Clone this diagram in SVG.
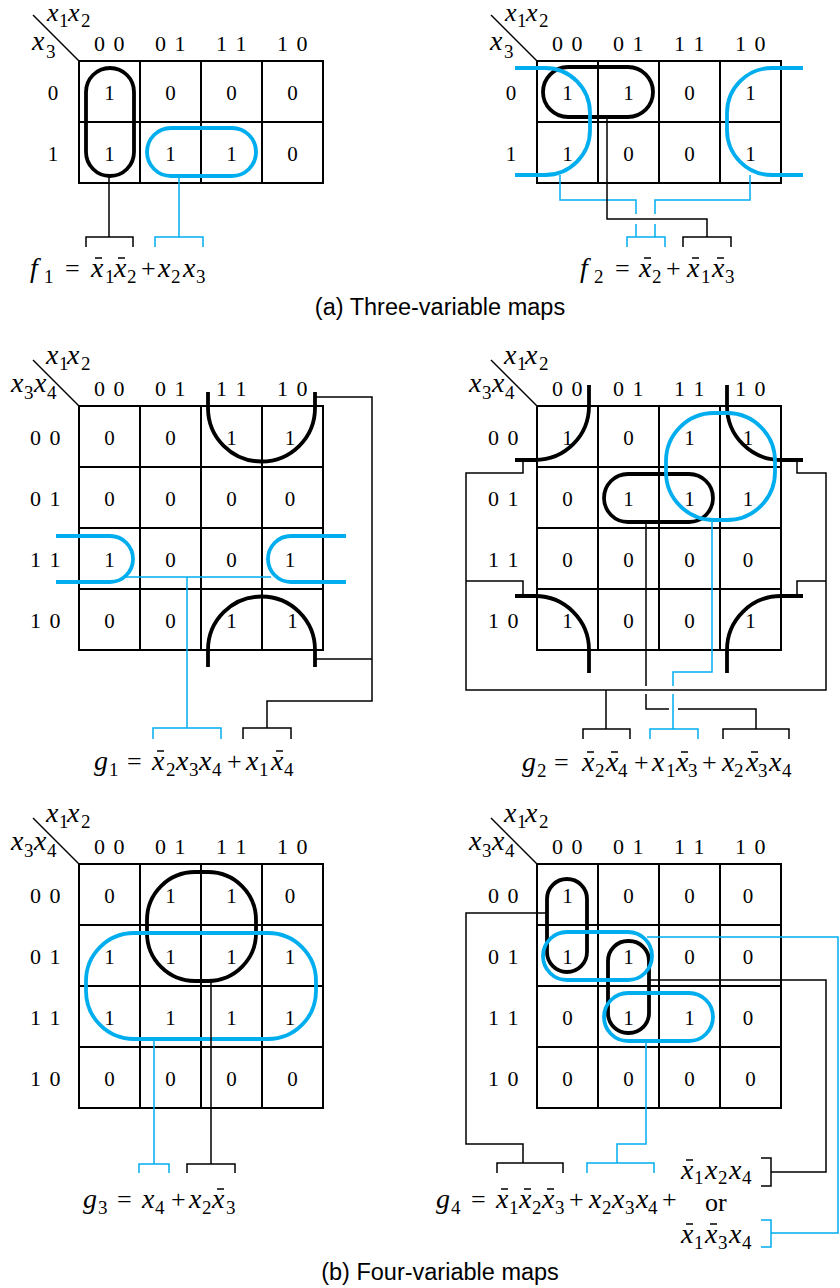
<svg xmlns="http://www.w3.org/2000/svg" width="840" height="1288" viewBox="0 0 840 1288">
<style>
.g{fill:none;stroke:#000;stroke-width:2}
.d{stroke:#000;stroke-width:1.5}
.lk{fill:none;stroke:#000;stroke-width:3.8}
.lb{fill:none;stroke:#00AEEF;stroke-width:3.8}
.wk{fill:none;stroke:#000;stroke-width:1.5}
.wb{fill:none;stroke:#00AEEF;stroke-width:1.5}
.bar{fill:none;stroke:#000;stroke-width:1.5}
text{font-family:"Liberation Serif","Times New Roman",serif;fill:#000}
.n{font-size:21px;text-anchor:middle}
.h{font-size:22px;text-anchor:middle;letter-spacing:1.5px}
.v{font-size:28px;font-style:italic}
.t{font-size:26px;font-style:italic}
.s{font-size:19px;font-style:normal}
.o{font-size:26px;font-style:normal}
.cap{font-family:"Liberation Sans",Arial,sans-serif;font-size:23.5px;text-anchor:middle}
</style>
<rect width="840" height="1288" fill="#fff"/>

<!-- ===== f1 map ===== -->
<g id="map-f1">
<rect class="g" x="79" y="61" width="244" height="122"/>
<path class="g" d="M140 61V183M201 61V183M262 61V183M79 122H323"/>
<line class="d" x1="33" y1="15" x2="79" y2="61"/>
<text y="21"><tspan class="t" x="47">x</tspan><tspan class="s" x="59" y="27">1</tspan><tspan class="t" x="68" y="21">x</tspan><tspan class="s" x="81" y="27">2</tspan></text>
<text y="50"><tspan class="v" x="32">x</tspan><tspan class="s" x="46" y="58">3</tspan></text>
<text class="h" y="51"><tspan x="110">0 0</tspan><tspan x="171">0 1</tspan><tspan x="232">1 1</tspan><tspan x="293">1 0</tspan></text>
<text class="n"><tspan x="53" y="100">0</tspan><tspan x="53" y="161">1</tspan></text>
<text class="n"><tspan x="109.5" y="100">1</tspan><tspan x="170.5" y="100">0</tspan><tspan x="231.5" y="100">0</tspan><tspan x="292.5" y="100">0</tspan><tspan x="109.5" y="161">1</tspan><tspan x="170.5" y="161">1</tspan><tspan x="231.5" y="161">1</tspan><tspan x="292.5" y="161">0</tspan></text>
<rect class="lk" x="86" y="68" width="48" height="108" rx="24"/>
<rect class="lb" x="147" y="128" width="109" height="48" rx="24"/>
</g>

<!-- ===== f2 map ===== -->
<g id="map-f2">
<rect class="g" x="537" y="61" width="244" height="122"/>
<path class="g" d="M598 61V183M659 61V183M720 61V183M537 122H781"/>
<line class="d" x1="491" y1="15" x2="537" y2="61"/>
<text y="21"><tspan class="t" x="505">x</tspan><tspan class="s" x="517" y="27">1</tspan><tspan class="t" x="526" y="21">x</tspan><tspan class="s" x="539" y="27">2</tspan></text>
<text y="50"><tspan class="v" x="490">x</tspan><tspan class="s" x="504" y="58">3</tspan></text>
<text class="h" y="51"><tspan x="568">0 0</tspan><tspan x="629">0 1</tspan><tspan x="690">1 1</tspan><tspan x="751">1 0</tspan></text>
<text class="n"><tspan x="511" y="100">0</tspan><tspan x="511" y="161">1</tspan></text>
<text class="n"><tspan x="567.5" y="100">1</tspan><tspan x="628.5" y="100">1</tspan><tspan x="689.5" y="100">0</tspan><tspan x="750.5" y="100">1</tspan><tspan x="567.5" y="161">1</tspan><tspan x="628.5" y="161">0</tspan><tspan x="689.5" y="161">0</tspan><tspan x="750.5" y="161">1</tspan></text>
<rect class="lk" x="543" y="67" width="110" height="50" rx="25"/>
<path class="lb" d="M515 68H545A45 45 0 0 1 590 113V130A45 45 0 0 1 545 175H515"/>
<path class="lb" d="M803 68H772A45 45 0 0 0 727 113V130A45 45 0 0 0 772 175H803"/>
</g>

<!-- ===== g1 map ===== -->
<g id="map-g1">
<rect class="g" x="79" y="406" width="244" height="244"/>
<path class="g" d="M140 406V650M201 406V650M262 406V650M79 467H323M79 528H323M79 589H323"/>
<line class="d" x1="33" y1="360" x2="79" y2="406"/>
<text y="364"><tspan class="v" x="46">x</tspan><tspan class="s" x="59" y="370">1</tspan><tspan class="v" x="67" y="364">x</tspan><tspan class="s" x="81" y="370">2</tspan></text>
<text y="392"><tspan class="v" x="11">x</tspan><tspan class="s" x="24" y="399">3</tspan><tspan class="v" x="34" y="392">x</tspan><tspan class="s" x="47" y="399">4</tspan></text>
<text class="h" y="396"><tspan x="110">0 0</tspan><tspan x="171">0 1</tspan><tspan x="232">1 1</tspan><tspan x="293">1 0</tspan></text>
<text class="h"><tspan x="46" y="445">0 0</tspan><tspan x="46" y="506">0 1</tspan><tspan x="46" y="567">1 1</tspan><tspan x="46" y="628">1 0</tspan></text>
<text class="n">
<tspan x="109.5" y="445">0</tspan><tspan x="170.5" y="445">0</tspan><tspan x="231.5" y="445">1</tspan><tspan x="292.5" y="445">1</tspan>
<tspan x="109.5" y="506">0</tspan><tspan x="170.5" y="506">0</tspan><tspan x="231.5" y="506">0</tspan><tspan x="292.5" y="506">0</tspan>
<tspan x="109.5" y="567">1</tspan><tspan x="170.5" y="567">0</tspan><tspan x="231.5" y="567">0</tspan><tspan x="292.5" y="567">1</tspan>
<tspan x="109.5" y="628">0</tspan><tspan x="170.5" y="628">0</tspan><tspan x="231.5" y="628">1</tspan><tspan x="292.5" y="628">1</tspan>
</text>
<path class="lk" d="M208 392V408A53.5 53.5 0 0 0 315 408V392"/>
<path class="lk" d="M208 667V650A53.5 53.5 0 0 1 315 650V667"/>
<path class="lb" d="M56 536H110A23 23 0 0 1 110 582H56"/>
<path class="lb" d="M346 536H291A23 23 0 0 0 291 582H346"/>
</g>

<!-- ===== g2 map ===== -->
<g id="map-g2">
<rect class="g" x="537" y="406" width="244" height="244"/>
<path class="g" d="M598 406V650M659 406V650M720 406V650M537 467H781M537 528H781M537 589H781"/>
<line class="d" x1="491" y1="360" x2="537" y2="406"/>
<text y="364"><tspan class="v" x="504">x</tspan><tspan class="s" x="517" y="370">1</tspan><tspan class="v" x="525" y="364">x</tspan><tspan class="s" x="539" y="370">2</tspan></text>
<text y="392"><tspan class="v" x="469">x</tspan><tspan class="s" x="482" y="399">3</tspan><tspan class="v" x="492" y="392">x</tspan><tspan class="s" x="505" y="399">4</tspan></text>
<text class="h" y="396"><tspan x="568">0 0</tspan><tspan x="629">0 1</tspan><tspan x="690">1 1</tspan><tspan x="751">1 0</tspan></text>
<text class="h"><tspan x="504" y="445">0 0</tspan><tspan x="504" y="506">0 1</tspan><tspan x="504" y="567">1 1</tspan><tspan x="504" y="628">1 0</tspan></text>
<text class="n">
<tspan x="567.5" y="445">1</tspan><tspan x="628.5" y="445">0</tspan><tspan x="689.5" y="445">1</tspan><tspan x="750.5" y="445">1</tspan>
<tspan x="567.5" y="506">0</tspan><tspan x="628.5" y="506">1</tspan><tspan x="689.5" y="506">1</tspan><tspan x="750.5" y="506">1</tspan>
<tspan x="567.5" y="567">0</tspan><tspan x="628.5" y="567">0</tspan><tspan x="689.5" y="567">0</tspan><tspan x="750.5" y="567">0</tspan>
<tspan x="567.5" y="628">1</tspan><tspan x="628.5" y="628">0</tspan><tspan x="689.5" y="628">0</tspan><tspan x="750.5" y="628">1</tspan>
</text>
<path class="lk" d="M589 385V406A54 54 0 0 1 535 460H515"/>
<path class="lk" d="M727 385V406A54 54 0 0 0 781 460H803"/>
<path class="lk" d="M515 596H535A54 54 0 0 1 589 650V673"/>
<path class="lk" d="M803 596H781A54 54 0 0 0 727 650V673"/>
<rect class="lk" x="604" y="474" width="109" height="48" rx="24"/>
<rect class="lb" x="666" y="413" width="109" height="107" rx="48"/>
</g>

<!-- ===== g3 map ===== -->
<g id="map-g3">
<rect class="g" x="79" y="864" width="244" height="244"/>
<path class="g" d="M140 864V1108M201 864V1108M262 864V1108M79 925H323M79 986H323M79 1047H323"/>
<line class="d" x1="33" y1="818" x2="79" y2="864"/>
<text y="822"><tspan class="v" x="46">x</tspan><tspan class="s" x="59" y="828">1</tspan><tspan class="v" x="67" y="822">x</tspan><tspan class="s" x="81" y="828">2</tspan></text>
<text y="850"><tspan class="v" x="11">x</tspan><tspan class="s" x="24" y="857">3</tspan><tspan class="v" x="34" y="850">x</tspan><tspan class="s" x="47" y="857">4</tspan></text>
<text class="h" y="854"><tspan x="110">0 0</tspan><tspan x="171">0 1</tspan><tspan x="232">1 1</tspan><tspan x="293">1 0</tspan></text>
<text class="h"><tspan x="46" y="903">0 0</tspan><tspan x="46" y="964">0 1</tspan><tspan x="46" y="1025">1 1</tspan><tspan x="46" y="1086">1 0</tspan></text>
<text class="n">
<tspan x="109.5" y="903">0</tspan><tspan x="170.5" y="903">1</tspan><tspan x="231.5" y="903">1</tspan><tspan x="292.5" y="903">0</tspan>
<tspan x="109.5" y="964">1</tspan><tspan x="170.5" y="964">1</tspan><tspan x="231.5" y="964">1</tspan><tspan x="292.5" y="964">1</tspan>
<tspan x="109.5" y="1025">1</tspan><tspan x="170.5" y="1025">1</tspan><tspan x="231.5" y="1025">1</tspan><tspan x="292.5" y="1025">1</tspan>
<tspan x="109.5" y="1086">0</tspan><tspan x="170.5" y="1086">0</tspan><tspan x="231.5" y="1086">0</tspan><tspan x="292.5" y="1086">0</tspan>
</text>
<rect class="lk" x="147" y="872" width="109" height="109" rx="48"/>
<rect class="lb" x="86" y="933" width="230" height="106" rx="48"/>
</g>

<!-- ===== g4 map ===== -->
<g id="map-g4">
<rect class="g" x="537" y="864" width="244" height="244"/>
<path class="g" d="M598 864V1108M659 864V1108M720 864V1108M537 925H781M537 986H781M537 1047H781"/>
<line class="d" x1="491" y1="818" x2="537" y2="864"/>
<text y="822"><tspan class="v" x="504">x</tspan><tspan class="s" x="517" y="828">1</tspan><tspan class="v" x="525" y="822">x</tspan><tspan class="s" x="539" y="828">2</tspan></text>
<text y="850"><tspan class="v" x="469">x</tspan><tspan class="s" x="482" y="857">3</tspan><tspan class="v" x="492" y="850">x</tspan><tspan class="s" x="505" y="857">4</tspan></text>
<text class="h" y="854"><tspan x="568">0 0</tspan><tspan x="629">0 1</tspan><tspan x="690">1 1</tspan><tspan x="751">1 0</tspan></text>
<text class="h"><tspan x="504" y="903">0 0</tspan><tspan x="504" y="964">0 1</tspan><tspan x="504" y="1025">1 1</tspan><tspan x="504" y="1086">1 0</tspan></text>
<text class="n">
<tspan x="567.5" y="903">1</tspan><tspan x="628.5" y="903">0</tspan><tspan x="689.5" y="903">0</tspan><tspan x="750.5" y="903">0</tspan>
<tspan x="567.5" y="964">1</tspan><tspan x="628.5" y="964">1</tspan><tspan x="689.5" y="964">0</tspan><tspan x="750.5" y="964">0</tspan>
<tspan x="567.5" y="1025">0</tspan><tspan x="628.5" y="1025">1</tspan><tspan x="689.5" y="1025">1</tspan><tspan x="750.5" y="1025">0</tspan>
<tspan x="567.5" y="1086">0</tspan><tspan x="628.5" y="1086">0</tspan><tspan x="689.5" y="1086">0</tspan><tspan x="750.5" y="1086">0</tspan>
</text>
<rect class="lk" x="547" y="879" width="40" height="93" rx="20"/>
<rect class="lk" x="608" y="941" width="41" height="92" rx="20"/>
<rect class="lb" x="543" y="932" width="109" height="48" rx="24"/>
<rect class="lb" x="604" y="993" width="109" height="48" rx="24"/>
</g>

<!-- ===== connectors ===== -->
<g id="connectors">
<path class="wk" d="M109 176V237M86 247V237H133V247"/>
<path class="wb" d="M179 176V237M155 247V237H203V247"/>
<path class="wb" d="M560 175V200H636V214M636 224V237M750 175V200H655V214M655 224V237M627 247V237H665V247"/>
<path class="wk" d="M607 117V219H707V237M683 247V237H731V247"/>
<path class="wb" d="M125 577H271M187 577V728M153 739V728H221V739"/>
<path class="wk" d="M315 397H372V701H267V728M315 659H372M243 739V728H291V739"/>
<path class="wk" d="M523 460V473H466V690H826V473H797V460M466 581H523V596M826 581H797V596M606 690V729M583 739V729H630V739"/>
<path class="wk" d="M646 522V686M646 694V709H669M678 709H756V729M723 739V729H789V739"/>
<path class="wb" d="M712 520V672H673V686M673 694V729M650 739V729H698V739"/>
<path class="wb" d="M154 1039V1164M139 1173V1164H169V1173"/>
<path class="wk" d="M211 981V1164M187 1173V1164H235V1173"/>
<path class="wk" d="M547 913H466V1144H523V1163M497 1173V1163H563V1173"/>
<path class="wb" d="M646 1041V1144H617V1163M587 1173V1163H654V1173"/>
<path class="wk" d="M649 980H826V1172H771M761 1158H771V1186H761"/>
<path class="wb" d="M647 937H838V1233H771M761 1220H771V1247H761"/>
</g>

<!-- ===== equations ===== -->
<g id="eq-f1">
<text y="277"><tspan class="v" x="30">f</tspan><tspan class="s" x="44" y="283">1</tspan><tspan class="o" x="65" y="277">=</tspan><tspan class="v" x="91">x</tspan><tspan class="s" x="105" y="283">1</tspan><tspan class="v" x="114" y="277">x</tspan><tspan class="s" x="127" y="283">2</tspan><tspan class="o" x="141" y="277">+</tspan><tspan class="v" x="158">x</tspan><tspan class="s" x="171" y="283">2</tspan><tspan class="v" x="183" y="277">x</tspan><tspan class="s" x="196" y="283">3</tspan></text>
<path class="bar" d="M95 258H102M118 258H125"/>
</g>
<g id="eq-f2">
<text y="277"><tspan class="v" x="580">f</tspan><tspan class="s" x="594" y="283">2</tspan><tspan class="o" x="615" y="277">=</tspan><tspan class="v" x="639">x</tspan><tspan class="s" x="652" y="283">2</tspan><tspan class="o" x="666" y="277">+</tspan><tspan class="v" x="687">x</tspan><tspan class="s" x="701" y="283">1</tspan><tspan class="v" x="712" y="277">x</tspan><tspan class="s" x="725" y="283">3</tspan></text>
<path class="bar" d="M644 258H651M692 258H699M717 258H724"/>
</g>
<g id="eq-g1">
<text y="770"><tspan class="v" x="94">g</tspan><tspan class="s" x="109" y="776">1</tspan><tspan class="o" x="127" y="770">=</tspan><tspan class="v" x="152">x</tspan><tspan class="s" x="166" y="776">2</tspan><tspan class="v" x="176" y="770">x</tspan><tspan class="s" x="189" y="776">3</tspan><tspan class="v" x="199" y="770">x</tspan><tspan class="s" x="212" y="776">4</tspan><tspan class="o" x="227" y="770">+</tspan><tspan class="v" x="246">x</tspan><tspan class="s" x="259" y="776">1</tspan><tspan class="v" x="271" y="770">x</tspan><tspan class="s" x="284" y="776">4</tspan></text>
<path class="bar" d="M157 751H164M276 751H283"/>
</g>
<g id="eq-g2">
<text y="771"><tspan class="v" x="522">g</tspan><tspan class="s" x="537" y="777">2</tspan><tspan class="o" x="554" y="771">=</tspan><tspan class="v" x="582">x</tspan><tspan class="s" x="595" y="777">2</tspan><tspan class="v" x="606" y="771">x</tspan><tspan class="s" x="618" y="777">4</tspan><tspan class="o" x="634" y="771">+</tspan><tspan class="v" x="652">x</tspan><tspan class="s" x="666" y="777">1</tspan><tspan class="v" x="676" y="771">x</tspan><tspan class="s" x="688" y="777">3</tspan><tspan class="o" x="702" y="771">+</tspan><tspan class="v" x="722">x</tspan><tspan class="s" x="734" y="777">2</tspan><tspan class="v" x="746" y="771">x</tspan><tspan class="s" x="758" y="777">3</tspan><tspan class="v" x="769" y="771">x</tspan><tspan class="s" x="782" y="777">4</tspan></text>
<path class="bar" d="M587 752H594M611 752H618M681 752H688M751 752H758"/>
</g>
<g id="eq-g3">
<text y="1208"><tspan class="v" x="83">g</tspan><tspan class="s" x="98" y="1214">3</tspan><tspan class="o" x="117" y="1208">=</tspan><tspan class="v" x="142">x</tspan><tspan class="s" x="155" y="1214">4</tspan><tspan class="o" x="171" y="1208">+</tspan><tspan class="v" x="189">x</tspan><tspan class="s" x="202" y="1214">2</tspan><tspan class="v" x="212" y="1208">x</tspan><tspan class="s" x="226" y="1214">3</tspan></text>
<path class="bar" d="M217 1189H224"/>
</g>
<g id="eq-g4">
<text y="1208"><tspan class="v" x="436">g</tspan><tspan class="s" x="451" y="1214">4</tspan><tspan class="o" x="471" y="1208">=</tspan><tspan class="v" x="496">x</tspan><tspan class="s" x="509" y="1214">1</tspan><tspan class="v" x="519" y="1208">x</tspan><tspan class="s" x="532" y="1214">2</tspan><tspan class="v" x="542" y="1208">x</tspan><tspan class="s" x="555" y="1214">3</tspan><tspan class="o" x="569" y="1208">+</tspan><tspan class="v" x="589">x</tspan><tspan class="s" x="602" y="1214">2</tspan><tspan class="v" x="612" y="1208">x</tspan><tspan class="s" x="625" y="1214">3</tspan><tspan class="v" x="636" y="1208">x</tspan><tspan class="s" x="648" y="1214">4</tspan><tspan class="o" x="662" y="1208">+</tspan></text>
<path class="bar" d="M501 1189H508M524 1189H531M547 1189H554"/>
<text y="1179"><tspan class="v" x="681">x</tspan><tspan class="s" x="694" y="1184">1</tspan><tspan class="v" x="705" y="1179">x</tspan><tspan class="s" x="718" y="1184">2</tspan><tspan class="v" x="729" y="1179">x</tspan><tspan class="s" x="742" y="1184">4</tspan></text>
<path class="bar" d="M686 1160H693"/>
<text class="o" x="705" y="1211" font-size="25">or</text>
<text y="1243"><tspan class="v" x="681">x</tspan><tspan class="s" x="694" y="1249">1</tspan><tspan class="v" x="705" y="1243">x</tspan><tspan class="s" x="718" y="1249">3</tspan><tspan class="v" x="729" y="1243">x</tspan><tspan class="s" x="742" y="1249">4</tspan></text>
<path class="bar" d="M686 1224H693M710 1224H717"/>
</g>

<text class="cap" x="440" y="315">(a) Three-variable maps</text>
<text class="cap" x="440" y="1280">(b) Four-variable maps</text>
</svg>
